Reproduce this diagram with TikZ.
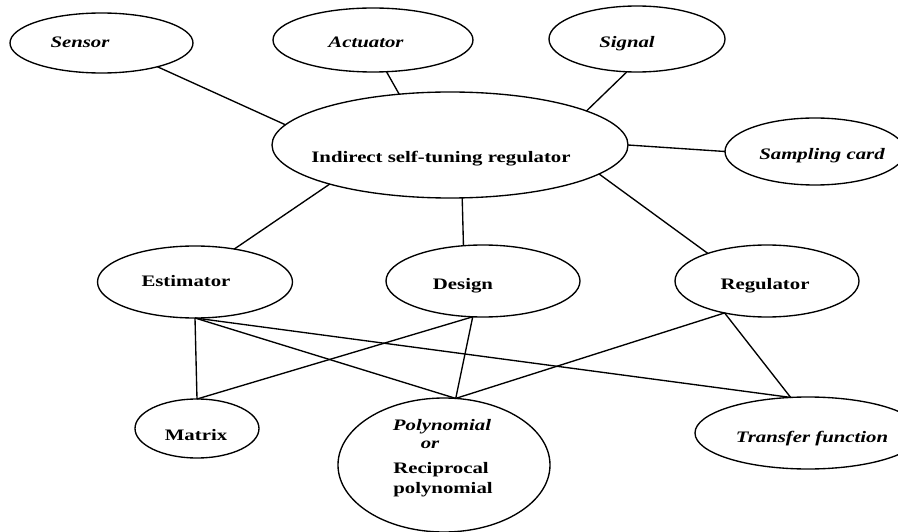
\documentclass[tikz,border=0pt]{standalone}
\usepackage{fontspec}
\setmainfont{Liberation Serif}[FakeStretch=1.3]
\usetikzlibrary{shapes.geometric}
\begin{document}
\begin{tikzpicture}[x=1pt,y=-1pt,
  oval/.style 2 args={draw, ellipse, line width=1.35pt, inner sep=0pt, outer sep=0pt,
    minimum width=#1, minimum height=#2},
  lbl/.style={anchor=base, inner sep=0pt, font=\fontsize{16}{19}\selectfont\bfseries},
  ilbl/.style={anchor=base, inner sep=0pt, font=\fontsize{16}{19}\selectfont\bfseries\itshape},
  link/.style={line width=1.35pt}]
\useasboundingbox (0,0) rectangle (898,532);
\clip (0,0) rectangle (898,532);

% outlines
\node[oval={183pt}{60pt}]  (sensor)    at (101.5,43)  {};
\node[oval={200pt}{64pt}]  (actuator)  at (373,40)    {};
\node[oval={176pt}{66pt}]  (signal)    at (637,39)    {};
\node[oval={180pt}{67pt}]  (sampling)  at (815,151.5) {};
\node[oval={356pt}{106pt}] (str)       at (450,145)   {};
\node[oval={195pt}{72pt}]  (estimator) at (195,282)   {};
\node[oval={194pt}{72pt}]  (design)    at (483,281)   {};
\node[oval={184pt}{72pt}]  (regulator) at (767,281)   {};
\node[oval={124pt}{59pt}]  (matrix)    at (197,428.5) {};
\node[oval={212pt}{134pt}] (poly)      at (444,465)   {};
\node[oval={226pt}{72pt}]  (transfer)  at (808,433)   {};

% texts
\node[ilbl] (sensor-t)    at (80,48)    {Sensor};
\node[ilbl] (actuator-t)  at (366,48)   {Actuator};
\node[ilbl] (signal-t)    at (627,48)   {Signal};
\node[ilbl] (sampling-t)  at (822,160)  {Sampling card};
\node[lbl]  (str-t)       at (441,163)  {Indirect self-tuning regulator};
\node[lbl]  (estimator-t) at (186,287)  {Estimator};
\node[lbl]  (design-t)    at (463,290)  {Design};
\node[lbl]  (regulator-t) at (765,290)  {Regulator};
\node[lbl]  (matrix-t)    at (196,440)  {Matrix};
\node[ilbl] (poly-t1)     at (442,430)  {Polynomial};
\node[ilbl] (poly-t2)     at (430,448)  {or};
\node[lbl]  (poly-t3)     at (441,473)  {Reciprocal};
\node[lbl]  (poly-t4)     at (443,493)  {polynomial};
\node[ilbl] (transfer-t)  at (812,442)  {Transfer function};

% connections
\draw[link] (sensor.-23.4)    -- (str.173.8);
\draw[link] (actuator.-67)    -- (str.135);
\draw[link] (signal.253)      -- (str.14.7);
\draw[link] (str.east)        -- (sampling.west);
\draw[link] (str.198.2)       -- (estimator.40);
\draw[link] (str.283.8)       -- (design.119.6);
\draw[link] (str.349.6)       -- (regulator.155.5);
\draw[link] (estimator.south) -- (matrix.north);
\draw[link] (estimator.south) -- (poly.80.6);
\draw[link] (estimator.south) -- (transfer.116.9);
\draw[link] (design.254.4)    -- (matrix.north);
\draw[link] (design.254.4)    -- (poly.80.6);
\draw[link] (regulator.217.3) -- (poly.80.6);
\draw[link] (regulator.217.3) -- (transfer.116.9);
\end{tikzpicture}
\end{document}
